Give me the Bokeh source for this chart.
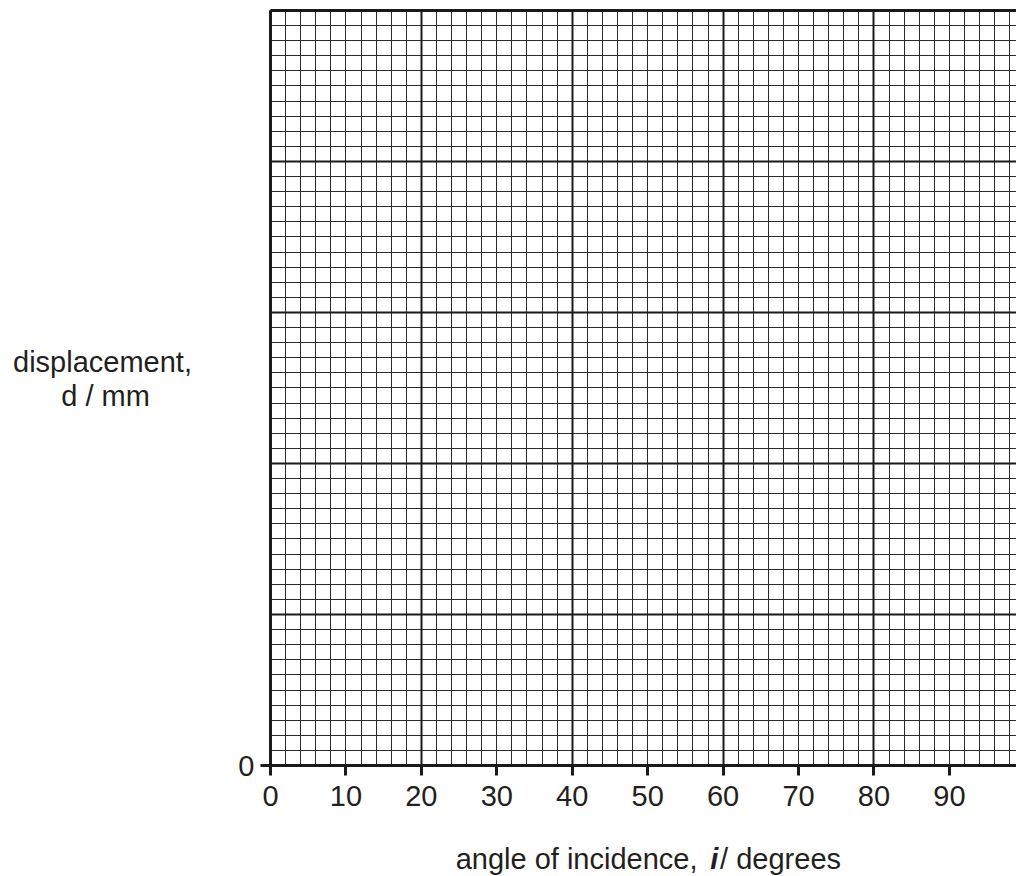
from bokeh.plotting import figure
from bokeh.models import (Range1d, FixedTicker, SingleIntervalTicker, Grid, Label, LinearAxis)
from bokeh.embed import file_html
from bokeh.resources import INLINE

# ---- chart values ----
x_ticks = [0, 10, 20, 30, 40, 50, 60, 70, 80, 90]
y_ticks = [0]
x_min, x_max = 0, 98.9          # graph-paper extent (angle, degrees)
y_min, y_max = 0, 50            # graph-paper extent (displacement, grid units)
x_minor_step, x_major_step = 2, 20
y_minor_step, y_major_step = 1, 10
x_title_parts = ["angle of incidence,", "i", "/ degrees"]
y_title_lines = ["displacement,", "d / mm"]

FONT = "Liberation Sans"
FS = "29px"
TXT = "#231f20"
INK = "#1a1a1a"

# frame covers the whole canvas; the graph paper occupies a sub-region of data space
p = figure(frame_width=1016, frame_height=876, min_border=0,
           x_range=Range1d(-35.79, 98.89), y_range=Range1d(-7.35, 50.66),
           output_backend="svg", toolbar_location=None, x_axis_location=None, y_axis_location=None)
p.outline_line_color = None
p.background_fill_color = "white"
p.border_fill_color = "white"
for g in p.grid:
    g.visible = False

# graph-paper grid
def add_grid(dim, step, color, width):
    bounds = (x_min, x_max) if dim == 0 else (y_min, y_max)
    cross = (y_min, y_max) if dim == 0 else (x_min, x_max)
    g = Grid(dimension=dim, ticker=SingleIntervalTicker(interval=step, num_minor_ticks=0),
             grid_line_color=color, grid_line_width=width, bounds=bounds)
    g.cross_bounds = cross
    p.add_layout(g)

add_grid(0, x_minor_step, "#2b2b2b", 1)
add_grid(1, y_minor_step, "#2b2b2b", 1)
add_grid(0, x_major_step, INK, 2)
add_grid(1, y_major_step, INK, 2)

def style_axis(ax):
    ax.axis_line_width = 3
    ax.axis_line_color = INK
    ax.major_tick_line_width = 3
    ax.major_tick_line_color = INK
    ax.major_tick_out = 10
    ax.major_tick_in = 0
    ax.minor_tick_line_color = None
    ax.major_label_text_font = FONT
    ax.major_label_text_font_size = FS
    ax.major_label_text_color = TXT

xa = LinearAxis(fixed_location=y_min, bounds=(x_min, x_max), ticker=FixedTicker(ticks=x_ticks))
style_axis(xa)
xa.major_label_standoff = 10
p.add_layout(xa, "below")

ya = LinearAxis(fixed_location=x_min, bounds=(y_min, y_max), ticker=FixedTicker(ticks=y_ticks))
style_axis(ya)
ya.major_label_standoff = 6
p.add_layout(ya, "left")

# top border of the graph paper
top = LinearAxis(fixed_location=y_max, bounds=(x_min, x_max), ticker=FixedTicker(ticks=[]))
style_axis(top)
top.major_label_text_font_size = "0px"
top.major_tick_line_color = None
p.add_layout(top, "above")

# axis titles
p.add_layout(Label(x=-22.27, y=26.75, text=y_title_lines[0], text_align="center",
                   text_baseline="alphabetic", text_font=FONT, text_font_size=FS, text_color=TXT))
p.add_layout(Label(x=-21.87, y=24.44, text=y_title_lines[1], text_align="center",
                   text_baseline="alphabetic", text_font=FONT, text_font_size=FS, text_color=TXT))

p.add_layout(Label(x=56.6, y=-6.2, text=x_title_parts[0], text_align="right",
                   text_baseline="alphabetic", text_font=FONT, text_font_size=FS, text_color=TXT))
p.add_layout(Label(x=58.3, y=-6.2, text=x_title_parts[1], text_align="left",
                   text_baseline="alphabetic", text_font=FONT, text_font_size=FS, text_color=TXT,
                   text_font_style="bold italic"))
p.add_layout(Label(x=59.6, y=-6.2, text=x_title_parts[2], text_align="left",
                   text_baseline="alphabetic", text_font=FONT, text_font_size=FS, text_color=TXT))

open("out.html", "w").write(file_html(p, INLINE))
